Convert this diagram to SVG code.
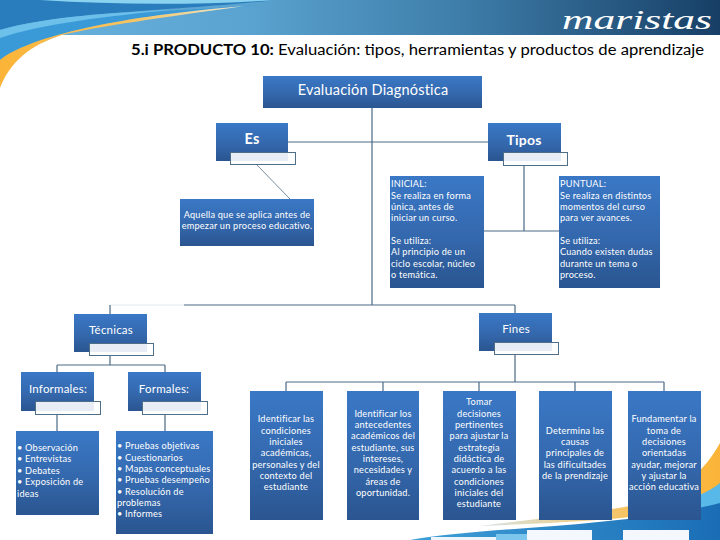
<svg xmlns="http://www.w3.org/2000/svg" width="720" height="540" viewBox="0 0 720 540">
<defs>
<linearGradient id="box" x1="0" y1="0" x2="0" y2="1"><stop offset="0" stop-color="#3a78c6"/><stop offset="0.55" stop-color="#3468ad"/><stop offset="1" stop-color="#2a5590"/></linearGradient>
<linearGradient id="top" x1="0" y1="0" x2="1" y2="0"><stop offset="0" stop-color="#6ab4e0"/><stop offset="0.35" stop-color="#5aa2cf"/><stop offset="0.65" stop-color="#3d7ca8"/><stop offset="1" stop-color="#173f66"/></linearGradient>
<linearGradient id="bot" x1="0" y1="0" x2="1" y2="0"><stop offset="0" stop-color="#3f9fd8"/><stop offset="1" stop-color="#1a6db5"/></linearGradient>
<linearGradient id="or" x1="0" y1="0" x2="1" y2="0"><stop offset="0" stop-color="#fbb437"/><stop offset="0.55" stop-color="#f6c463"/><stop offset="1" stop-color="#e8e8d8"/></linearGradient>
<linearGradient id="orb" x1="0" y1="0" x2="1" y2="0"><stop offset="0" stop-color="#d5e3e6"/><stop offset="0.6" stop-color="#f6c463"/><stop offset="1" stop-color="#fbb437"/></linearGradient>
</defs>
<style>
text{font-family:Lato,"Liberation Sans",sans-serif;fill:#fff;font-size:9.2px;letter-spacing:.2px}
.m{text-anchor:middle}
.b{fill:url(#box)}
.w{fill:#e8edf5}
.o{fill:#fff;stroke:#4f6f88;stroke-width:1}
.c{fill:none;stroke:#4a6a85;stroke-width:1.2}
</style>
<g id="decor">
<path d="M60 35H720V0H0V60Z" fill="url(#top)"/>
<path d="M0 0H275C190 10 60 12 0 30Z" fill="#2a7dbd"/>
<path d="M40 0H275C200 5 120 5 40 0Z" fill="#8ad3f0"/>
<path d="M0 30C60 14 170 12 260 5C170 14 60 22 0 60Z" fill="#3a9ad8"/>
<path d="M0 30C50 16 110 13 170 10C110 16 40 24 0 38Z" fill="#6cc0ea"/>
<path d="M0 60C30 36 120 16 245 6C160 18 100 26 62 35C30 45 10 62 0 88Z" fill="url(#or)"/>
<path d="M720 443V490C700 503 660 514 612 519C560 523 520 524 480 526C540 518 590 514 640 504C680 495 705 470 720 443Z" fill="url(#orb)"/>
<path d="M720 483V510H640C680 505 705 495 720 483Z" fill="#58b8e8"/>
<path d="M410 540C480 527 620 528 720 503V540Z" fill="url(#bot)"/>
<rect x="496" y="534" width="31" height="6" fill="#7cc5ec"/>
<rect x="431" y="537" width="65" height="3" fill="#eef5fa"/><rect x="527" y="530" width="65" height="10" fill="#f4f8fc"/><rect x="623" y="530" width="66" height="10" fill="#f4f8fc"/>
<text x="562" y="29" style="font-family:'Liberation Serif',serif;font-style:italic;font-size:27px;letter-spacing:0" textLength="150" lengthAdjust="spacingAndGlyphs">maristas</text>
</g>
<g id="connectors">
<path class="c" d="M372 108V305M288 142H488"/>
<path d="M256 164L290 199" fill="none" stroke="#4f6f88" stroke-width=".8"/>
<path class="c" d="M524 165V231M484 231H559"/>
<path d="M110 305H184" fill="none" stroke="#e4eaf0" stroke-width="1.2"/>
<path class="c" d="M184 305H515M110 305V314M515 305V313"/>
<path class="c" d="M110 355V365M57 365H165M57 365V372M165 365V372"/>
<path class="c" d="M57 414V431M165 414V431"/>
<path class="c" d="M515 354V382M286 382H664M286 382V391M383 382V391M479 382V391M575 382V391M664 382V391"/>
</g>
<text x="131" y="55" style="fill:#000;font-size:15.5px;letter-spacing:0" textLength="573" lengthAdjust="spacingAndGlyphs"><tspan font-weight="700">5.i PRODUCTO 10:</tspan> Evaluación: tipos, herramientas y productos de aprendizaje</text>
<g id="n-diag"><rect class="b" x="263" y="76" width="219" height="32"/><text class="m" x="373" y="95" style="font-size:14.5px">Evaluación Diagnóstica</text></g>
<g id="n-es"><rect class="b" x="216" y="123" width="72" height="38"/><rect class="o" x="230.500" y="152.500" width="65" height="12"/><rect class="w" x="231" y="153" width="57" height="8"/><text class="m" x="252" y="144" style="font-size:14.5px;font-weight:700">Es</text></g>
<g id="n-tipos"><rect class="b" x="488" y="123" width="73" height="38"/><rect class="o" x="503.500" y="152.500" width="64" height="13"/><rect class="w" x="504" y="153" width="57" height="8"/><text class="m" x="524" y="145" style="font-size:14px;font-weight:700">Tipos</text></g>
<g id="n-aquella"><rect class="b" x="180" y="199" width="134" height="47"/><text class="m" x="247" y="218">Aquella que se aplica antes de</text><text class="m" x="247" y="229">empezar un proceso educativo.</text></g>
<g id="n-inicial"><rect class="b" x="390" y="176" width="94" height="112"/><text x="391" y="187">INICIAL:</text><text x="391" y="199">Se realiza en forma</text><text x="391" y="210">única, antes de</text><text x="391" y="221">iniciar un curso.</text><text x="391" y="244">Se utiliza:</text><text x="391" y="255">Al principio de un</text><text x="391" y="267">ciclo escolar, núcleo</text><text x="391" y="278">o temática.</text></g>
<g id="n-puntual"><rect class="b" x="559" y="176" width="101" height="112"/><text x="560" y="187">PUNTUAL:</text><text x="560" y="199">Se realiza en distintos</text><text x="560" y="210">momentos del curso</text><text x="560" y="221">para ver avances.</text><text x="560" y="244">Se utiliza:</text><text x="560" y="255">Cuando existen dudas</text><text x="560" y="267">durante un tema o</text><text x="560" y="278">proceso.</text></g>
<g id="n-tecnicas"><rect class="b" x="74" y="314" width="73" height="38"/><rect class="o" x="89.500" y="343.500" width="64" height="12"/><rect class="w" x="90" y="344" width="57" height="8"/><text class="m" x="111" y="334" style="font-size:11.500px">Técnicas</text></g>
<g id="n-fines"><rect class="b" x="479" y="313" width="73" height="38"/><rect class="o" x="494.500" y="342.500" width="64" height="12"/><rect class="w" x="495" y="343" width="57" height="8"/><text class="m" x="516" y="333" style="font-size:11.500px">Fines</text></g>
<g id="n-inf"><rect class="b" x="21" y="372" width="73" height="39"/><rect class="o" x="35.500" y="401.500" width="65" height="13"/><rect class="w" x="36" y="402" width="58" height="9"/><text class="m" x="58" y="393" style="font-size:11.500px">Informales:</text></g>
<g id="n-for"><rect class="b" x="128" y="372" width="73" height="39"/><rect class="o" x="142.500" y="401.500" width="65" height="13"/><rect class="w" x="143" y="402" width="58" height="9"/><text class="m" x="164" y="393" style="font-size:11.500px">Formales:</text></g>
<g id="n-obs"><rect class="b" x="16" y="431" width="83" height="84"/><text x="17" y="451">• Observación</text><text x="17" y="462">• Entrevistas</text><text x="17" y="474">• Debates</text><text x="17" y="485">• Exposición de</text><text x="17" y="497">ideas</text></g>
<g id="n-pru"><rect class="b" x="116" y="431" width="97" height="103"/><text x="117" y="449">• Pruebas objetivas</text><text x="117" y="461">• Cuestionarios</text><text x="117" y="472">• Mapas conceptuales</text><text x="117" y="483">• Pruebas desempeño</text><text x="117" y="495">• Resolución de</text><text x="117" y="506">problemas</text><text x="117" y="517">• Informes</text></g>
<g id="n-f1"><rect class="b" x="250" y="391" width="73" height="129"/><text class="m" x="286" y="422">Identificar las</text><text class="m" x="286" y="434">condiciones</text><text class="m" x="286" y="445">iniciales</text><text class="m" x="286" y="456">académicas,</text><text class="m" x="286" y="468">personales y del</text><text class="m" x="286" y="479">contexto del</text><text class="m" x="286" y="490">estudiante</text></g>
<g id="n-f2"><rect class="b" x="347" y="391" width="72" height="129"/><text class="m" x="383" y="417">Identificar los</text><text class="m" x="383" y="428">antecedentes</text><text class="m" x="383" y="439">académicos del</text><text class="m" x="383" y="451">estudiante, sus</text><text class="m" x="383" y="462">intereses,</text><text class="m" x="383" y="473">necesidades y</text><text class="m" x="383" y="485">áreas de</text><text class="m" x="383" y="496">oportunidad.</text></g>
<g id="n-f3"><rect class="b" x="443" y="391" width="73" height="129"/><text class="m" x="479" y="405">Tomar</text><text class="m" x="479" y="417">decisiones</text><text class="m" x="479" y="428">pertinentes</text><text class="m" x="479" y="439">para ajustar la</text><text class="m" x="479" y="451">estrategia</text><text class="m" x="479" y="462">didáctica de</text><text class="m" x="479" y="473">acuerdo a las</text><text class="m" x="479" y="485">condiciones</text><text class="m" x="479" y="496">iniciales del</text><text class="m" x="479" y="507">estudiante</text></g>
<g id="n-f4"><rect class="b" x="539" y="391" width="73" height="129"/><text class="m" x="575" y="434">Determina las</text><text class="m" x="575" y="445">causas</text><text class="m" x="575" y="456">principales de</text><text class="m" x="575" y="468">las dificultades</text><text class="m" x="575" y="479">de la prendizaje</text></g>
<g id="n-f5"><rect class="b" x="628" y="391" width="73" height="129"/><text class="m" x="664" y="422">Fundamentar la</text><text class="m" x="664" y="434">toma de</text><text class="m" x="664" y="445">decisiones</text><text class="m" x="664" y="456">orientadas</text><text class="m" x="664" y="468">ayudar, mejorar</text><text class="m" x="664" y="479">y ajustar la</text><text class="m" x="664" y="490">acción educativa</text></g>
</svg>
